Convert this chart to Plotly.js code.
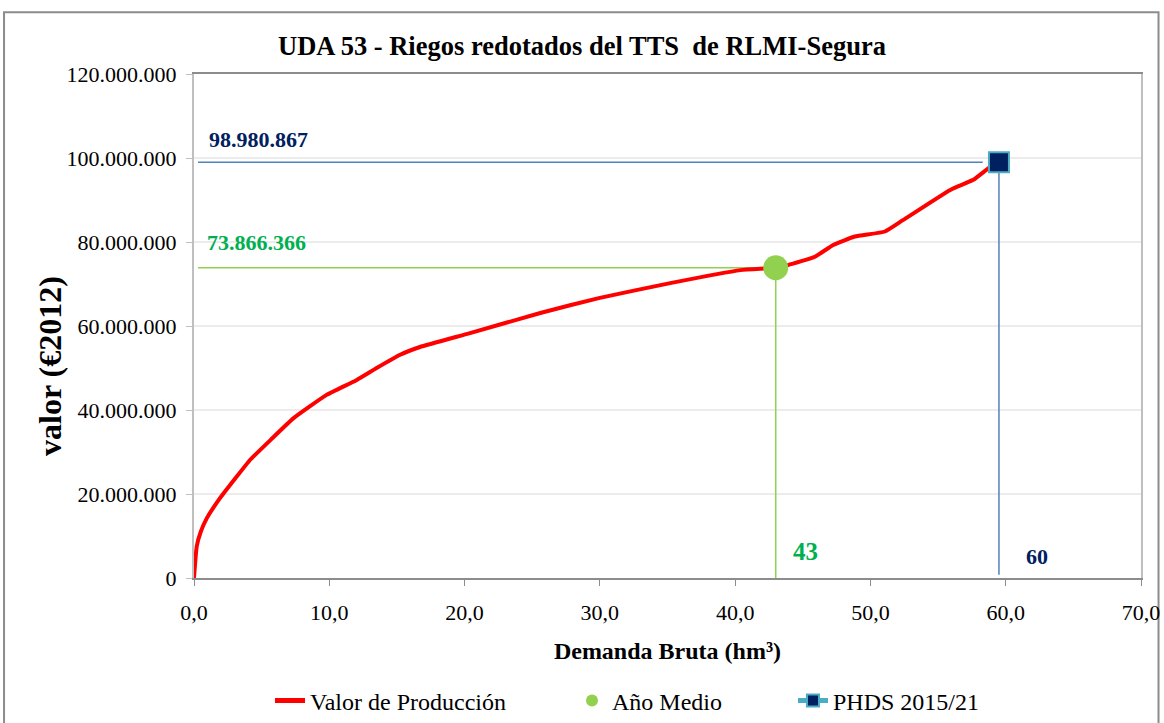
<!DOCTYPE html>
<html>
<head>
<meta charset="utf-8">
<script src="https://cdn.plot.ly/plotly-3.0.1.min.js"></script>
<style>html,body{margin:0;padding:0;background:#fff;}#chart{width:1164px;height:723px;}</style>
</head>
<body>
<div id="chart"></div>
<script>
// Curve: Valor de Producción
var demanda = [0, 0.2, 0.5, 0.94, 1.92, 3.0, 4.14, 5.7, 7.34, 9.8, 12.0, 13.5, 15.2, 16.7, 20.4, 25.6, 30.0, 35.2, 40.4, 43.0, 43.9, 45.9, 47.25, 48.85, 51.07, 52.4, 55.9, 57.6, 58.7, 59.5];
var valor = [0, 7500000, 11000000, 14200000, 19000000, 23500000, 28100000, 33000000, 38000000, 43600000, 47100000, 50000000, 53100000, 55000000, 58300000, 63100000, 66700000, 70200000, 73300000, 73866366, 74500000, 76500000, 79300000, 81300000, 82500000, 85200000, 92400000, 94800000, 97500000, 98980867];
// Año Medio
var anioMedioX = [43];
var anioMedioY = [73866366];
var anioMedioLabelX = "43";
var anioMedioLabelY = "73.866.366";
// PHDS 2015/21
var phdsX = [59.5];
var phdsY = [98980867];
var phdsLabelX = "60";
var phdsLabelY = "98.980.867";
// Names
var seriesNames = ["Valor de Producción", "Año Medio", "PHDS 2015/21"];
var chartTitle = "UDA 53 - Riegos redotados del TTS  de RLMI-Segura";
var xTitle = "Demanda Bruta (hm³)";
var yTitle = "valor (€2012)";

var serif = "Liberation Serif, Times New Roman, serif";
var navy = "#002060";
var green = "#00b050";

var traces = [
  {x: demanda, y: valor, mode: "lines", name: seriesNames[0], legend: "legend",
   line: {color: "#ff0000", width: 4, shape: "spline", smoothing: 0.4}},
  {x: anioMedioX, y: anioMedioY, mode: "markers", name: seriesNames[1], legend: "legend2",
   marker: {color: "#92d050", size: 25, symbol: "circle", line: {width: 0}}},
  {x: phdsX, y: phdsY, mode: "lines+markers", name: seriesNames[2], legend: "legend3",
   line: {color: "#4bacc6", width: 4},
   marker: {color: navy, size: 20, symbol: "square", line: {color: "#4bacc6", width: 2}}}
];

function legendAt(px) {
  return {orientation: "h", xref: "container", yref: "container",
          x: px / 1164, xanchor: "left", y: 1 - 701 / 723, yanchor: "middle",
          font: {family: serif, size: 24, color: "#000"}, itemsizing: "constant",
          bgcolor: "rgba(0,0,0,0)"};
}

var layout = {
  width: 1164, height: 723,
  paper_bgcolor: "#ffffff", plot_bgcolor: "#ffffff",
  separators: ",.",
  margin: {l: 194, r: 23, t: 74, b: 145},
  font: {family: serif, size: 22, color: "#000"},
  title: {text: "<b>" + chartTitle + "</b>", font: {family: serif, size: 26.5, color: "#000"},
          x: 0.5, xanchor: "center", xref: "container", y: 1 - 46 / 723, yref: "container", yanchor: "middle"},
  showlegend: true,
  legend: legendAt(270),
  legend2: legendAt(572),
  legend3: legendAt(793),
  xaxis: {range: [0, 70], dtick: 10, tick0: 0, tickformat: ".1f",
          showgrid: false, zeroline: false,
          showline: true, linecolor: "#8c8c8c", linewidth: 2, mirror: true,
          ticks: "outside", ticklen: 6, tickcolor: "#8c8c8c", ticklabelstandoff: 8,
          tickfont: {family: serif, size: 22, color: "#000"},
          title: {text: "<b>" + xTitle + "</b>", font: {family: serif, size: 24, color: "#000"}, standoff: 18}},
  yaxis: {range: [0, 120000000], dtick: 20000000, tickformat: ",d",
          showgrid: true, gridcolor: "#ececec", gridwidth: 1.5, zeroline: false,
          showline: true, linecolor: "#bfbfbf", linewidth: 2, mirror: true,
          ticks: "outside", ticklen: 6, tickcolor: "#bfbfbf", ticklabelstandoff: 5,
          tickfont: {family: serif, size: 22, color: "#000"}},
  shapes: [
    {type: "rect", xref: "paper", yref: "paper", x0: -0.2006, x1: 1.0185, y0: -0.35, y1: 1.1225,
     line: {color: "#8c8c8c", width: 2}, fillcolor: "rgba(0,0,0,0)", layer: "below"},
    {type: "line", xref: "x", yref: "y", x0: 0.3, x1: anioMedioX[0], y0: anioMedioY[0], y1: anioMedioY[0],
     line: {color: "#92d050", width: 1.5}, layer: "between"},
    {type: "line", xref: "x", yref: "y", x0: anioMedioX[0], x1: anioMedioX[0], y0: 0, y1: anioMedioY[0],
     line: {color: "#92d050", width: 1.5}, layer: "between"},
    {type: "line", xref: "x", yref: "y", x0: 0.3, x1: phdsX[0] - 1.2, y0: phdsY[0], y1: phdsY[0],
     line: {color: "#4f81bd", width: 1.5}, layer: "between"},
    {type: "line", xref: "x", yref: "y", x0: phdsX[0], x1: phdsX[0], y0: 800000, y1: phdsY[0],
     line: {color: "#4f81bd", width: 1.5}, layer: "between"}
  ],
  annotations: [
    {xref: "paper", yref: "paper", x: (50 - 194) / 947, y: (578 - 366) / 504, xanchor: "center", yanchor: "middle",
     text: "<b>" + yTitle + "</b>", textangle: -90, showarrow: false,
     font: {family: serif, size: 32, color: "#000"}},
    {x: 4.8, y: 104300000, xref: "x", yref: "y", text: "<b>" + phdsLabelY + "</b>", showarrow: false,
     font: {family: serif, size: 22, color: navy}},
    {x: 4.6, y: 80000000, xref: "x", yref: "y", text: "<b>" + anioMedioLabelY + "</b>", showarrow: false,
     font: {family: serif, size: 22, color: green}},
    {x: 45.2, y: 6200000, xref: "x", yref: "y", text: "<b>" + anioMedioLabelX + "</b>", showarrow: false,
     font: {family: serif, size: 25, color: green}},
    {x: 62.3, y: 5200000, xref: "x", yref: "y", text: "<b>" + phdsLabelX + "</b>", showarrow: false,
     font: {family: serif, size: 22, color: navy}}
  ]
};

Plotly.newPlot("chart", traces, layout, {displayModeBar: false, staticPlot: true});
</script>
</body>
</html>
